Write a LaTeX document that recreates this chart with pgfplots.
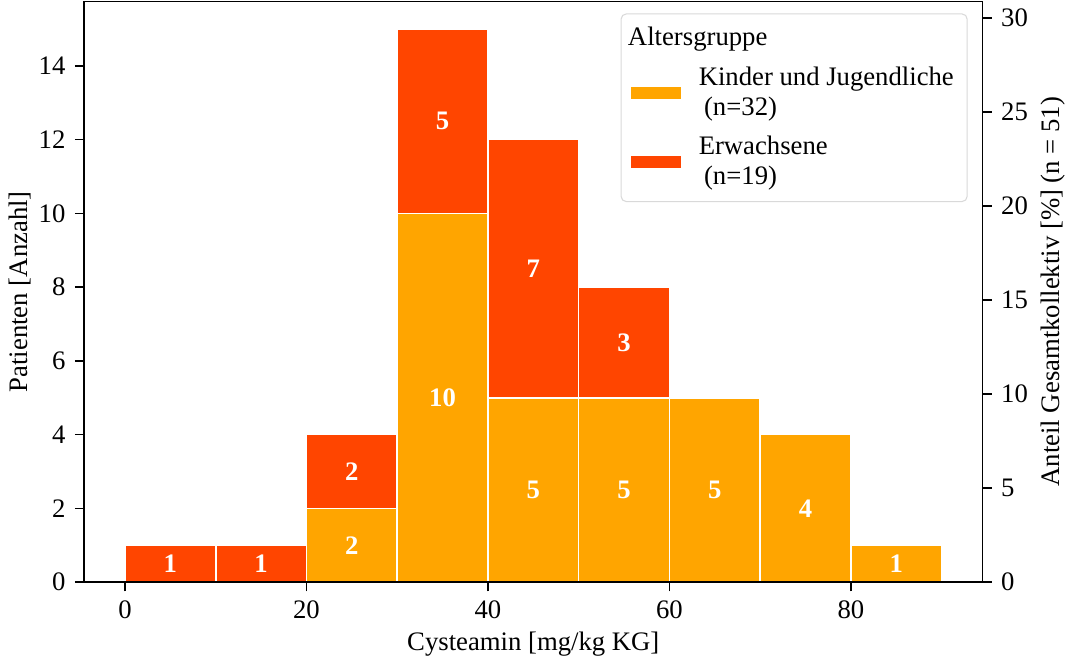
\documentclass[border=0pt]{standalone}
\usepackage{pgfplots}
\pgfplotsset{compat=1.18}
\usepackage{pgfplotstable}
\usepackage{fontspec}
\setmainfont{Liberation Serif}
\definecolor{kinder}{RGB}{255,165,0}
\definecolor{erw}{RGB}{255,69,0}
\pgfplotstableread{
x k e
5 0 1
15 0 1
25 2 2
35 10 5
45 5 7
55 5 3
65 5 0
75 4 0
85 1 0
}\bars
\pgfplotstableread{
x y lab
5 0.5 1
15 0.5 1
25 1 2
25 3 2
35 5 10
35 12.5 5
45 2.5 5
45 8.5 7
55 2.5 5
55 6.5 3
65 2.5 5
75 2 4
85 0.5 1
}\labs
\begin{document}
\begin{tikzpicture}
\pgfplotsset{
  every axis/.append style={
    scale only axis, width=336.4pt, height=217.5pt,
    xmin=-4.5, xmax=94.5, ymin=0, ymax=15.75,
    /pgf/number format/assume math mode=true,
    tick label style={font=\fontsize{10}{12}\selectfont},
    label style={font=\fontsize{10}{12}\selectfont},
    tick style={black, line width=0.6pt},
    tick align=outside, major tick length=3.5pt,
  }
}
\begin{axis}[
  axis on top,
  ybar stacked, bar width=10,
  xtick={0,20,40,60,80}, ytick={0,2,...,14},
  xtick pos=bottom, ytick pos=left,
  axis line style={line width=0.6pt},
  xlabel={Cysteamin [mg/kg KG]}, ylabel={Patienten [Anzahl]},
  xlabel style={yshift=2pt}, ylabel style={yshift=-4pt},
  legend style={at={(1,1)}, anchor=north east, xshift=-5.5pt, yshift=-4.5pt,
    draw=black!15, rounded corners=2pt, font=\fontsize{10}{11}\selectfont,
    cells={align=left, anchor=west}, row sep=2.5pt, column sep=4pt,
    inner xsep=3pt, inner ysep=3pt},
  legend image code/.code={\fill[#1, sharp corners] (0pt,-2.6pt) rectangle (19.5pt,2.6pt);},
]
\addlegendimage{empty legend}
\addlegendentry{\hspace{-26.5pt}Altersgruppe}
\addplot[fill=kinder, draw=white, line width=0.6pt] table[x=x,y=k]{\bars};
\addlegendentry{Kinder und Jugendliche\\\hspace*{2pt}(n=32)}
\addplot[fill=erw, draw=white, line width=0.6pt] table[x=x,y=e]{\bars};
\addlegendentry{Erwachsene\\\hspace*{2pt}(n=19)}
\end{axis}
\begin{axis}[
  hide axis,
]
\addplot[draw=none, mark=none, nodes near coords, point meta=explicit symbolic,
  nodes near coords align={center},
  every node near coord/.append style={anchor=center, text=white, font=\fontsize{10}{12}\selectfont\bfseries}]
  table[x=x,y=y,meta=lab]{\labs};
\end{axis}
\begin{axis}[
  axis x line=none, axis y line*=right,
  ymin=0, ymax=30.882,
  ytick={0,5,...,30},
  axis line style={line width=0.6pt},
  ylabel={Anteil Gesamtkollektiv [\%] (n = 51)},
  ylabel style={yshift=2pt},
]
\addplot[draw=none] coordinates {(0,0)};
\end{axis}
\end{tikzpicture}
\end{document}
